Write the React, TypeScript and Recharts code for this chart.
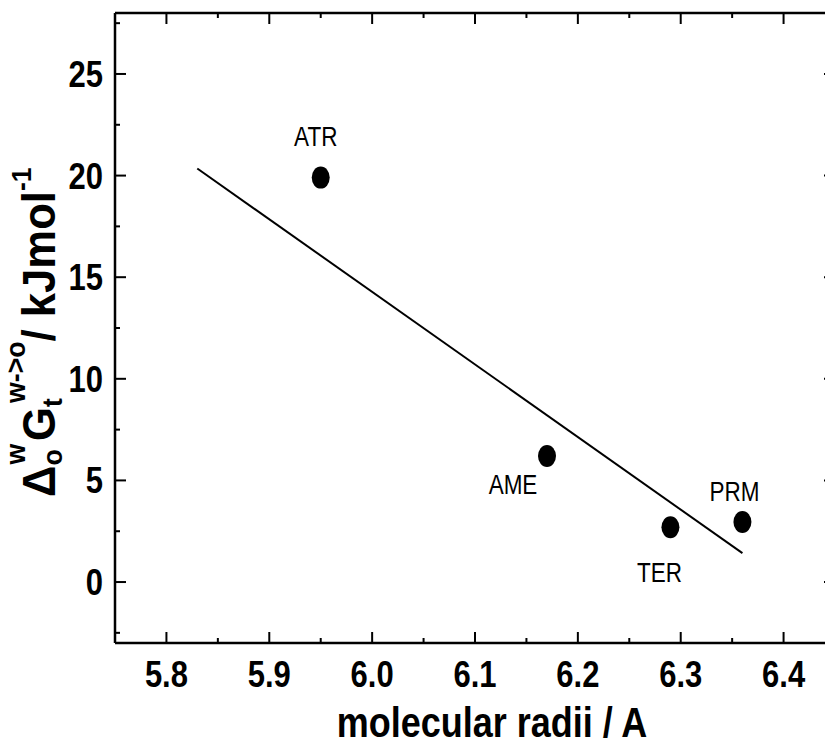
import { ComposedChart, XAxis, YAxis, Scatter, Line } from 'recharts'

// valores
const compounds = ['ATR', 'AME', 'TER', 'PRM']
const radii = [5.95, 6.17, 6.29, 6.36]
const deltaG = [19.9, 6.2, 2.7, 2.95]

// reta de ajuste (extremos lidos)
const fitX = [5.83, 6.36]
const fitY = [20.35, 1.42]

const xMajor = [5.8, 5.9, 6.0, 6.1, 6.2, 6.3, 6.4]
const xMinor = [5.85, 5.95, 6.05, 6.15, 6.25, 6.35]
const yMajor = [0, 5, 10, 15, 20, 25]
const yMinor = [-2.5, 2.5, 7.5, 12.5, 17.5, 22.5, 27.5]

const points = compounds.map((name, i) => ({ name, x: radii[i], y: deltaG[i] }))
const fitLine = fitX.map((x, i) => ({ x, y: fitY[i] }))

const FONT = '"Liberation Sans", Arial, sans-serif'
const STRETCH = 1.2

// deslocamento dos rótulos em relação ao ponto
const labelOffset: Record<string, [number, number]> = {
  ATR: [-5, -32],
  AME: [-34, 38],
  TER: [-11, 55],
  PRM: [-8, -21],
}

const isMajor = (list: number[], v: number) => list.some(m => Math.abs(m - v) < 1e-6)

function BottomTick(p: any) {
  const major = isMajor(xMajor, p.payload.value)
  return (
    <g>
      <line x1={p.x} x2={p.x} y1={p.y} y2={p.y - (major ? 11 : 5)} stroke="#000" strokeWidth={2} />
      {major && (
        <text
          transform={`translate(${p.x},${p.y + 44}) scale(1,${STRETCH})`}
          textAnchor="middle"
          fontFamily={FONT}
          fontWeight="bold"
          fontSize={31}
          fill="#000"
        >
          {p.payload.value.toFixed(1)}
        </text>
      )}
    </g>
  )
}

function TopTick(p: any) {
  const major = isMajor(xMajor, p.payload.value)
  return <line x1={p.x} x2={p.x} y1={p.y} y2={p.y + (major ? 11 : 5)} stroke="#000" strokeWidth={2} />
}

function LeftTick(p: any) {
  const major = isMajor(yMajor, p.payload.value)
  return (
    <g>
      <line x1={p.x} x2={p.x + (major ? 11 : 5)} y1={p.y} y2={p.y} stroke="#000" strokeWidth={2} />
      {major && (
        <text
          transform={`translate(${p.x - 12},${p.y + 13}) scale(1,${STRETCH})`}
          textAnchor="end"
          fontFamily={FONT}
          fontWeight="bold"
          fontSize={31}
          fill="#000"
        >
          {p.payload.value}
        </text>
      )}
    </g>
  )
}

function RightTick(p: any) {
  const major = isMajor(yMajor, p.payload.value)
  return <line x1={p.x} x2={p.x - (major ? 11 : 5)} y1={p.y} y2={p.y} stroke="#000" strokeWidth={2} />
}

function Dot(p: any) {
  const [dx, dy] = labelOffset[p.payload.name] || [0, -25]
  return (
    <g>
      <ellipse cx={p.cx} cy={p.cy} rx={9} ry={11} fill="#000" />
      <text
        transform={`translate(${p.cx + dx},${p.cy + dy}) scale(1,${STRETCH})`}
        textAnchor="middle"
        fontFamily={FONT}
        fontSize={22.5}
        fill="#000"
      >
        {p.payload.name}
      </text>
    </g>
  )
}

function XTitle(p: any) {
  const vb = p.viewBox
  return (
    <text
      transform={`translate(${vb.x + vb.width / 2 + 17},${vb.y + 94}) scale(1,${STRETCH})`}
      textAnchor="middle"
      fontFamily={FONT}
      fontWeight="bold"
      fontSize={36}
      fill="#000"
    >
      molecular radii / A
    </text>
  )
}

function YTitle(p: any) {
  const vb = p.viewBox
  // início do texto (embaixo) e linha de base
  const bx = 55
  const by = vb.y + 484
  return (
    <text
      transform={`translate(${bx},${by}) rotate(-90) scale(0.95,1)`}
      fontFamily={FONT}
      fontWeight="bold"
      fontSize={46}
      fill="#000"
    >
      <tspan>Δ</tspan>
      <tspan fontSize={28} dy={7}>o</tspan>
      <tspan fontSize={28} dx={-16} dy={-37}>w</tspan>
      <tspan dx={3} dy={30}>G</tspan>
      <tspan fontSize={28} dy={7}>t</tspan>
      <tspan fontSize={28} dx={-5} dy={-37}>w-&gt;o</tspan>
      <tspan dy={30}>/ kJmol</tspan>
      <tspan fontSize={28} dy={-24}>-1</tspan>
    </text>
  )
}

export default function App() {
  return (
    <div style={{ position: 'absolute', left: 0, top: 0, width: 825, height: 746, overflow: 'hidden', background: '#fff' }}>
      <ComposedChart width={850} height={746} margin={{ top: 12, right: 14, bottom: 102, left: 114 }}>
        <XAxis
          xAxisId="b"
          dataKey="x"
          type="number"
          orientation="bottom"
          domain={[5.75, 6.45]}
          ticks={[...xMajor, ...xMinor]}
          interval={0}
          height={1}
          tickSize={0}
          tickMargin={0}
          tickLine={false}
          tick={BottomTick}
          axisLine={{ stroke: '#000', strokeWidth: 2.5 }}
          allowDataOverflow
          label={{ content: XTitle }}
        />
        <XAxis
          xAxisId="t"
          dataKey="x"
          type="number"
          orientation="top"
          domain={[5.75, 6.45]}
          ticks={[...xMajor, ...xMinor]}
          interval={0}
          height={1}
          tickSize={0}
          tickMargin={0}
          tickLine={false}
          tick={TopTick}
          axisLine={{ stroke: '#000', strokeWidth: 2.5 }}
          allowDataOverflow
        />
        <YAxis
          yAxisId="l"
          dataKey="y"
          type="number"
          orientation="left"
          domain={[-3, 28]}
          ticks={[...yMajor, ...yMinor]}
          interval={0}
          width={1}
          tickSize={0}
          tickMargin={0}
          tickLine={false}
          tick={LeftTick}
          axisLine={{ stroke: '#000', strokeWidth: 2.5 }}
          allowDataOverflow
          label={{ content: YTitle }}
        />
        <YAxis
          yAxisId="r"
          dataKey="y"
          type="number"
          orientation="right"
          domain={[-3, 28]}
          ticks={[...yMajor, ...yMinor]}
          interval={0}
          width={1}
          tickSize={0}
          tickMargin={0}
          tickLine={false}
          tick={RightTick}
          axisLine={{ stroke: '#000', strokeWidth: 2.5 }}
          allowDataOverflow
        />
        <Line
          xAxisId="b"
          yAxisId="l"
          data={fitLine}
          dataKey="y"
          type="linear"
          stroke="#000"
          strokeWidth={2}
          dot={false}
          activeDot={false}
          isAnimationActive={false}
        />
        <Scatter
          xAxisId="b"
          yAxisId="l"
          data={points}
          dataKey="y"
          shape={Dot}
          isAnimationActive={false}
        />
      </ComposedChart>
    </div>
  )
}
